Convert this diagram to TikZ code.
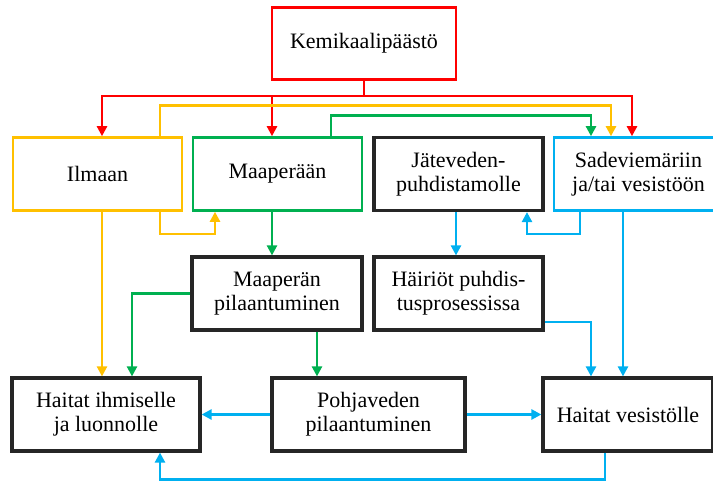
\documentclass[tikz,border=0pt]{standalone}
\usepackage{fontspec}
\setmainfont{Liberation Serif}
\usetikzlibrary{arrows.meta,positioning}
\definecolor{kred}{RGB}{255,0,0}
\definecolor{korange}{RGB}{255,192,0}
\definecolor{kgreen}{RGB}{0,176,80}
\definecolor{kblue}{RGB}{0,176,240}

\begin{document}
\begin{tikzpicture}[x=1pt, y=-1pt, every node/.style={font=\fontsize{22}{24}\selectfont}]
  \tikzset{
    box/.style={draw=black!85, line width=3.2pt, minimum width=169pt, minimum height=73pt, align=center, inner sep=2pt},
    cbox/.style={box, line width=2.6pt},
    flow/.style={line width=2.4pt, -{Triangle[length=10pt,width=10pt]}}
  }
  \useasboundingbox (0,0) rectangle (713,481);

  % --- top: release and the four routes ---
  \node[cbox, draw=kred, minimum width=184pt, minimum height=72pt] (kem) at (364,43.5) {Kemikaalipäästö};
  \node[cbox, draw=korange] (ilm) at (97.5,174) {Ilmaan};
  \node[cbox, draw=kgreen] (maa) at (277.5,174) {Maaperään};
  \node[box] (jat) at (458.5,174) {Jäteveden-\\puhdistamolle};
  \node[cbox, draw=kblue] (sad) at (638.5,174) {Sadeviemäriin\\ja/tai vesistöön};

  % --- middle row ---
  \node[box, minimum width=170pt] (mpi) at (277,293.5) {Maaperän\\pilaantuminen};
  \node[box] (hai) at (458.5,293.5) {Häiriöt puhdis-\\tusprosessissa};

  % --- bottom row: effects ---
  \node[box, minimum width=188pt] (hih) at (106,414.5) {Haitat ihmiselle\\ja luonnolle};
  \node[box, minimum width=193pt] (poh) at (368.5,414.5) {Pohjaveden\\pilaantuminen};
  \node[box, minimum width=170pt] (hve) at (628,414.5) {Haitat vesistölle};

  % red: release goes everywhere
  \coordinate (rbus) at (364,96);
  \draw[flow, kred] (kem.south) -- (rbus) -| ([xshift=4.5pt]ilm.north);
  \draw[flow, kred] (rbus) -| ([xshift=-5.5pt]maa.north);
  \draw[flow, kred] (rbus) -| ([xshift=-6.5pt]sad.north);

  % orange: from the air
  \draw[flow, korange] ([xshift=62.5pt]ilm.north) -- ++(0,-30.5) -| ([xshift=-27.5pt]sad.north);
  \draw[flow, korange] ([xshift=62.5pt]ilm.south) -- ++(0,22.5) -| ([xshift=-62.5pt]maa.south);
  \draw[flow, korange] ([xshift=4.5pt]ilm.south) -- ([xshift=-4pt]hih.north);

  % green: from the soil
  \draw[flow, kgreen] ([xshift=53.5pt]maa.north) -- ++(0,-20.5) -| ([xshift=-47.5pt]sad.north);
  \draw[flow, kgreen] ([xshift=-5.5pt]maa.south) -- ([xshift=-5pt]mpi.north);
  \draw[flow, kgreen] (mpi.west) -| ([xshift=26pt]hih.north);
  \draw[flow, kgreen] ([xshift=40pt]mpi.south) -- ([xshift=-51.5pt]poh.north);

  % blue: water routes
  \draw[flow, kblue] ([xshift=-2.5pt]jat.south) -- ([xshift=-2.5pt]hai.north);
  \draw[flow, kblue] ([xshift=-58.5pt]sad.south) -- ++(0,22.5) -| ([xshift=68.5pt]jat.south);
  \draw[flow, kblue] ([xshift=-15.5pt]sad.south) -- ([xshift=-5pt]hve.north);
  \draw[flow, kblue] ([yshift=-28.5pt]hai.east) -| ([xshift=-37pt]hve.north);
  \draw[flow, kblue, line width=3pt] (poh.west) -- (hih.east);
  \draw[flow, kblue, line width=3pt] (poh.east) -- (hve.west);
  \draw[flow, kblue] ([xshift=-23pt]hve.south) -- ++(0,27) -| ([xshift=54pt]hih.south);
\end{tikzpicture}
\end{document}
